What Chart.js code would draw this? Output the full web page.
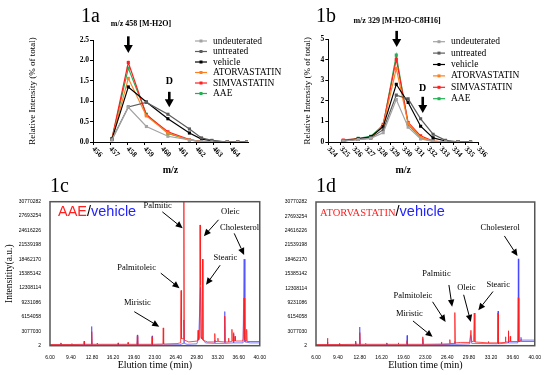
<!DOCTYPE html>
<html>
<head>
<meta charset="utf-8">
<script src="https://cdn.jsdelivr.net/npm/chart.js@4.4.1/dist/chart.umd.min.js"></script>
<style>
  body { margin: 0; background: #fff; }
  #fig { position: relative; width: 550px; height: 375px; overflow: hidden; font-family: "Liberation Serif", serif; }
  #fig canvas { position: absolute; }
  .lbl { position: absolute; white-space: nowrap; line-height: 1; color: #000; }
  .panel { font-size: 20px; }
  .head { font-size: 8px; font-weight: bold; transform: translate(-50%, -50%); }
  .pair { font-family: "Liberation Sans", sans-serif; font-size: 14.5px; }
</style>
</head>
<body>
<div id="fig">
  <canvas id="c1a" width="290" height="188" style="left:0;top:0"></canvas>
  <canvas id="c1b" width="275" height="188" style="left:275px;top:0"></canvas>
  <canvas id="c1c" width="275" height="187" style="left:0;top:188px"></canvas>
  <canvas id="c1d" width="275" height="187" style="left:275px;top:188px"></canvas>

  <div class="lbl panel" style="left:81px;top:5px">1a</div>
  <div class="lbl panel" style="left:316px;top:5px">1b</div>
  <div class="lbl panel" style="left:50px;top:175px">1c</div>
  <div class="lbl panel" style="left:316px;top:175px">1d</div>
  <div class="lbl head" style="left:141px;top:24px">m/z 458 [M-H2O]</div>
  <div class="lbl head" style="left:397px;top:21px">m/z 329 [M-H2O-C8H16]</div>
  <div class="lbl pair" style="left:58px;top:204px"><span style="color:#ff1f1f">AAE</span>/<span style="color:#2323ff">vehicle</span></div>
  <div class="lbl pair" style="left:320px;top:204px"><span style="color:#ff1f1f;font-family:'Liberation Serif',serif;font-size:10.5px">ATORVASTATIN</span>/<span style="color:#2323ff">vehicle</span></div>
</div>

<script>
// ---- 1a : m/z 458 [M-H2O] cluster ----
const mzA = [457.1, 458.05, 459.1, 460.35, 461.6, 462.3, 462.9, 463.8, 464.4, 464.95];
const undeutA = [0.05, 0.85, 0.38, 0.14, 0.05, 0.01, 0.0, 0, 0, 0];
const untreatA = [0.06, 0.86, 0.97, 0.68, 0.32, 0.10, 0.04, 0, 0, 0];
const vehicleA = [0.07, 1.35, 0.98, 0.57, 0.22, 0.07, 0.03, 0, 0, 0];
const atorA = [0.07, 1.56, 0.64, 0.22, 0.05, 0.01, 0, 0, 0, 0];
const simvaA = [0.08, 1.95, 0.66, 0.25, 0.06, 0.01, 0, 0, 0, 0];
const aaeA = [0.08, 1.81, 0.68, 0.21, 0.05, 0.01, 0, 0, 0, 0];
const mzTicksA = [456, 457, 458, 459, 460, 461, 462, 463, 464];

// ---- 1b : m/z 329 [M-H2O-C8H16] cluster ----
const mzB = [325.2, 326.4, 327.4, 328.4, 329.45, 330.4, 331.4, 332.4, 333.4, 334.4, 335.4];
const undeutB = [0.05, 0.12, 0.18, 0.45, 2.07, 0.72, 0.15, 0.03, 0.01, 0, 0];
const untreatB = [0.05, 0.13, 0.20, 0.60, 2.28, 2.10, 1.13, 0.38, 0.08, 0.01, 0];
const vehicleB = [0.05, 0.15, 0.25, 0.75, 2.81, 1.92, 0.77, 0.20, 0.05, 0, 0];
const atorB = [0.06, 0.15, 0.22, 0.80, 3.58, 0.90, 0.22, 0.04, 0, 0, 0];
const simvaB = [0.10, 0.15, 0.18, 0.86, 4.03, 0.95, 0.30, 0.05, 0, 0, 0];
const aaeB = [0.07, 0.18, 0.28, 0.80, 4.23, 0.85, 0.20, 0.03, 0, 0, 0];
const mzTicksB = [324, 325, 326, 327, 328, 329, 330, 331, 332, 333, 334, 335, 336];

const seriesNames = ['undeuterated', 'untreated', 'vehicle', 'ATORVASTATIN', 'SIMVASTATIN', 'AAE'];
const seriesColors = ['#a3a3a3', '#5c5c5c', '#000000', '#ff7f1f', '#ff1f1f', '#1fb153'];

// ---- 1c / 1d : GC chromatograms, [time (min), intensity] ----
const redC = [[6, 0.25e6], [7.7, 0.25e6], [7.77, 0.6e6], [7.84, 0.25e6], [9.5, 0.25e6], [9.56, 0.45e6], [9.62, 0.25e6],
  [11.5, 0.3e6], [11.55, 0.9e6], [11.6, 0.3e6], [12.7, 0.3e6], [12.76, 3.0e6], [12.82, 0.3e6], [13.6, 0.3e6], [13.65, 0.5e6], [13.7, 0.3e6],
  [17.0, 0.3e6], [17.05, 0.6e6], [17.1, 0.3e6], [18.6, 0.3e6], [18.65, 0.7e6], [18.7, 0.3e6], [20.1, 0.3e6], [20.16, 2.0e6], [20.22, 0.3e6],
  [22.5, 0.3e6], [22.56, 1.9e6], [22.62, 0.3e6], [24.3, 0.35e6], [24.36, 3.8e6], [24.42, 0.35e6],
  [26.6, 0.45e6], [27.1, 0.6e6], [27.18, 5.5e6], [27.25, 11.8e6], [27.32, 1.5e6], [27.62, 1.5e6], [27.7, 31e6], [27.78, 1.2e6],
  [28.5, 0.8e6], [29.9, 1.0e6], [30.0, 3.3e6], [30.08, 1.2e6], [30.25, 1.5e6], [30.32, 25.8e6], [30.4, 13e6], [30.48, 1.8e6],
  [30.62, 1.5e6], [30.72, 18.5e6], [30.8, 1.2e6], [31.5, 0.8e6], [32.65, 0.8e6], [32.71, 2.6e6], [32.77, 0.9e6], [33.16, 0.9e6], [33.22, 1.6e6], [33.28, 0.9e6],
  [34.25, 0.8e6], [34.33, 6.3e6], [34.4, 0.8e6], [34.88, 0.8e6], [34.94, 1.6e6], [35.0, 0.8e6], [35.43, 0.9e6], [35.49, 3.5e6], [35.55, 1.0e6],
  [35.7, 1.0e6], [35.75, 2.8e6], [35.8, 1.0e6], [35.95, 1.0e6], [36.0, 2.0e6], [36.05, 1.0e6], [37.25, 1.0e6], [37.32, 1.6e6], [37.47, 10.2e6], [37.56, 1.2e6],
  [37.82, 1.0e6], [37.88, 3.5e6], [37.95, 0.9e6], [40, 0.9e6]];
const blueC = [[6, 0.15e6], [7.7, 0.15e6], [7.77, 0.5e6], [7.84, 0.15e6], [9.5, 0.15e6], [9.56, 0.3e6], [9.62, 0.15e6],
  [11.5, 0.15e6], [11.55, 1.0e6], [11.6, 0.15e6], [12.7, 0.15e6], [12.76, 4.1e6], [12.82, 0.15e6], [17.0, 0.15e6], [17.05, 0.4e6], [17.1, 0.15e6],
  [20.1, 0.15e6], [20.16, 2.3e6], [20.22, 0.15e6], [22.5, 0.15e6], [22.56, 2.1e6], [22.62, 0.15e6],
  [27.0, 0.2e6], [27.62, 0.5e6], [27.7, 5.5e6], [27.78, 0.5e6], [28.2, 0.3e6], [29.8, 0.4e6], [30.1, 1.5e6], [30.4, 12.5e6], [30.52, 1.8e6],
  [30.8, 1.3e6], [31.2, 0.6e6], [32.65, 0.5e6], [32.71, 1.2e6], [32.77, 0.5e6], [34.27, 0.5e6], [34.33, 7.3e6], [34.39, 0.5e6],
  [35.7, 0.6e6], [35.75, 2.5e6], [35.8, 0.6e6], [37.3, 0.6e6], [37.47, 18.5e6], [37.6, 0.8e6], [38.5, 0.6e6], [40, 0.6e6]];
const redD = [[6, 0.25e6], [7.72, 0.25e6], [7.78, 1.6e6], [7.84, 0.25e6], [9.6, 0.25e6], [9.65, 0.5e6], [9.7, 0.25e6],
  [12.1, 0.3e6], [12.16, 0.9e6], [12.22, 0.3e6], [12.74, 0.3e6], [12.8, 2.8e6], [12.86, 0.3e6], [13.65, 0.3e6], [13.7, 0.5e6], [13.75, 0.3e6],
  [16.95, 0.3e6], [17.0, 0.6e6], [17.05, 0.3e6], [18.75, 0.3e6], [18.8, 0.6e6], [18.85, 0.3e6], [20.1, 0.3e6], [20.16, 1.1e6], [20.22, 0.3e6],
  [22.54, 0.3e6], [22.6, 1.9e6], [22.66, 0.3e6], [25.45, 0.35e6], [25.5, 0.8e6], [25.55, 0.35e6], [26.75, 0.4e6], [26.8, 1.3e6], [26.85, 0.45e6],
  [27.5, 0.5e6], [27.58, 7.1e6], [27.66, 0.6e6], [28.5, 0.7e6], [29.9, 0.7e6], [30.08, 3.3e6], [30.2, 0.9e6], [30.5, 0.9e6], [30.6, 7.0e6], [30.7, 0.8e6],
  [32.75, 0.6e6], [32.8, 0.9e6], [32.85, 0.6e6], [34.24, 0.6e6], [34.3, 7.0e6], [34.36, 0.6e6], [35.4, 0.7e6], [35.45, 1.9e6], [35.5, 0.8e6],
  [35.85, 0.8e6], [35.9, 3.2e6], [35.95, 0.9e6], [36.15, 0.9e6], [36.2, 2.0e6], [36.25, 0.9e6], [37.38, 0.9e6], [37.45, 10.3e6], [37.52, 0.9e6],
  [37.81, 0.9e6], [37.86, 1.3e6], [37.91, 0.9e6], [40, 0.9e6]];
const blueD = [[6, 0.15e6], [7.72, 0.15e6], [7.78, 0.8e6], [7.84, 0.15e6], [9.6, 0.15e6], [9.65, 0.4e6], [9.7, 0.15e6],
  [12.1, 0.15e6], [12.16, 1.0e6], [12.22, 0.15e6], [12.74, 0.15e6], [12.8, 4.0e6], [12.86, 0.15e6], [16.95, 0.15e6], [17.0, 0.5e6], [17.05, 0.15e6],
  [20.1, 0.15e6], [20.16, 2.2e6], [20.22, 0.15e6], [22.54, 0.15e6], [22.6, 1.5e6], [22.66, 0.15e6], [27.5, 0.3e6], [27.58, 0.9e6], [27.66, 0.3e6],
  [29.9, 0.4e6], [30.05, 2.2e6], [30.2, 0.5e6], [34.24, 0.4e6], [34.3, 7.4e6], [34.36, 0.4e6], [35.85, 0.6e6], [35.9, 3.0e6], [35.95, 0.6e6],
  [37.38, 0.6e6], [37.45, 18.6e6], [37.52, 0.8e6], [37.81, 1.2e6], [37.86, 1.8e6], [37.91, 1.2e6], [40, 1.2e6]];
const timeTicks = [6, 9.4, 12.8, 16.2, 19.6, 23, 26.4, 29.8, 33.2, 36.6, 40];
const intensityTicks = [2, 3077030, 6154058, 9231086, 12308114, 15385142, 18462170, 21539198, 24616226, 27693254, 30770282];

// peak names: label position, arrow start, arrow tip (time, intensity)
const calloutsC = [
  { text: 'Palmitic', t: [23.46, 29.9e6], a: [24.21, 28.6e6], b: [27.51, 25.1e6] },
  { text: 'Oleic', t: [35.22, 28.6e6], a: [33.32, 26.9e6], b: [30.94, 23.4e6] },
  { text: 'Cholesterol', t: [36.74, 25.3e6], a: [35.86, 24.0e6], b: [37.47, 19.4e6] },
  { text: 'Stearic', t: [34.43, 18.7e6], a: [33.58, 17.2e6], b: [31.3, 13.0e6] },
  { text: 'Palmitoleic', t: [20.04, 16.75e6], a: [23.96, 15.5e6], b: [26.99, 12.3e6] },
  { text: 'Miristic', t: [20.16, 9.19e6], a: [19.66, 7.27e6], b: [23.71, 4.06e6] }
];
const calloutsD = [
  { text: 'Cholesterol', t: [34.63, 25.3e6], a: [35.28, 23.5e6], b: [37.32, 19.2e6] },
  { text: 'Stearic', t: [34.32, 13.1e6], a: [33.51, 11.6e6], b: [31.23, 7.6e6] },
  { text: 'Oleic', t: [29.37, 12.4e6], a: [28.95, 10.9e6], b: [30.06, 5.1e6] },
  { text: 'Palmitic', t: [24.73, 15.3e6], a: [26.66, 13.0e6], b: [27.16, 8.35e6] },
  { text: 'Palmitoleic', t: [21.07, 10.7e6], a: [24.12, 9.4e6], b: [26.14, 5.1e6] },
  { text: 'Miristic', t: [20.51, 6.8e6], a: [21.07, 5.3e6], b: [24.12, 1.9e6] }
];

// big arrows on the isotope plots: x, top, tip (data units)
const arrowsA = [{ x: 458.05, top: 2.59, tip: 2.18 }, { x: 460.43, top: 1.23, tip: 0.85, label: 'D', ly: 1.48 }];
const arrowsB = [{ x: 329.48, top: 5.41, tip: 4.63 }, { x: 331.57, top: 2.2, tip: 1.41, label: 'D', ly: 2.6 }];

const serif = 'Liberation Serif';

// slanted x labels (reading down to the right, like Prism)
const slantLabels = {
  id: 'slantLabels',
  afterDraw(chart) {
    const c = chart.ctx, sx = chart.scales.x;
    c.save();
    c.font = 'bold 7.5px "' + serif + '"';
    c.fillStyle = '#000';
    c.textAlign = 'left';
    c.textBaseline = 'middle';
    sx.ticks.forEach(t => {
      c.save();
      c.translate(sx.getPixelForValue(t.value), chart.chartArea.bottom + 6);
      c.rotate(Math.PI / 4);
      c.fillText(String(t.value), 0, 0);
      c.restore();
    });
    c.restore();
  }
};

function keyPlugin(x, y0, dy) {
  return {
    id: 'key',
    afterDraw(chart) {
      const c = chart.ctx;
      c.save();
      c.font = '9.5px "' + serif + '"';
      c.textBaseline = 'middle';
      chart.data.datasets.forEach((d, i) => {
        const y = y0 + i * dy;
        c.strokeStyle = d.borderColor;
        c.lineWidth = 1.2;
        c.beginPath(); c.moveTo(x, y); c.lineTo(x + 12, y); c.stroke();
        c.fillStyle = d.borderColor;
        c.fillRect(x + 4.5, y - 1.5, 3, 3);
        c.fillStyle = '#000';
        c.fillText(d.label, x + 18, y);
      });
      c.restore();
    }
  };
}

function bigArrows(items) {
  return {
    id: 'bigArrows',
    afterDraw(chart) {
      const c = chart.ctx, sx = chart.scales.x, sy = chart.scales.y;
      c.save();
      c.fillStyle = '#000';
      items.forEach(a => {
        const px = sx.getPixelForValue(a.x);
        const top = sy.getPixelForValue(a.top), tip = sy.getPixelForValue(a.tip);
        c.fillRect(px - 1.3, top, 2.6, tip - top - 7);
        c.beginPath();
        c.moveTo(px - 4.5, tip - 8); c.lineTo(px + 4.5, tip - 8); c.lineTo(px, tip);
        c.closePath(); c.fill();
        if (a.label) {
          c.font = 'bold 10px "' + serif + '"';
          c.textAlign = 'center';
          c.textBaseline = 'middle';
          c.fillText(a.label, px, sy.getPixelForValue(a.ly));
        }
      });
      c.restore();
    }
  };
}

function callouts(items) {
  return {
    id: 'callouts',
    afterDraw(chart) {
      const c = chart.ctx, sx = chart.scales.x, sy = chart.scales.y;
      // frame round the plot
      const ca = chart.chartArea;
      c.save();
      c.strokeStyle = '#555';
      c.lineWidth = 1.5;
      c.strokeRect(ca.left, ca.top, ca.right - ca.left, ca.bottom - ca.top);
      c.font = '8.5px "' + serif + '"';
      c.textAlign = 'center';
      c.textBaseline = 'middle';
      c.fillStyle = '#000';
      c.strokeStyle = '#000';
      c.lineWidth = 1;
      items.forEach(it => {
        c.fillText(it.text, sx.getPixelForValue(it.t[0]), sy.getPixelForValue(it.t[1]));
        const x1 = sx.getPixelForValue(it.a[0]), y1 = sy.getPixelForValue(it.a[1]);
        const x2 = sx.getPixelForValue(it.b[0]), y2 = sy.getPixelForValue(it.b[1]);
        const ang = Math.atan2(y2 - y1, x2 - x1);
        const bx = x2 - 7 * Math.cos(ang), by = y2 - 7 * Math.sin(ang);
        c.beginPath(); c.moveTo(x1, y1); c.lineTo(bx, by); c.stroke();
        c.beginPath();
        c.moveTo(x2, y2);
        c.lineTo(bx - 3.2 * Math.sin(ang), by + 3.2 * Math.cos(ang));
        c.lineTo(bx + 3.2 * Math.sin(ang), by - 3.2 * Math.cos(ang));
        c.closePath(); c.fill();
      });
      c.restore();
    }
  };
}

function mzChart(id, xs, ys, opt) {
  const datasets = seriesNames.map((name, i) => ({
    label: name,
    data: xs.map((x, k) => ({ x: x, y: ys[i][k] })),
    borderColor: seriesColors[i],
    backgroundColor: seriesColors[i],
    borderWidth: 1.2,
    pointStyle: 'rect',
    pointRadius: 2.2,
    pointBorderWidth: 0,
    tension: 0
  }));
  return new Chart(document.getElementById(id), {
    type: 'line',
    data: { datasets: datasets },
    options: {
      responsive: false,
      animation: false,
      layout: { padding: opt.pad },
      plugins: { legend: { display: false }, tooltip: { enabled: false } },
      scales: {
        x: {
          type: 'linear', min: opt.xMin, max: opt.xMax,
          afterBuildTicks: s => { s.ticks = opt.xTicks.map(v => ({ value: v })); },
          afterFit: s => { s.height = 34; },
          ticks: { display: false },
          grid: { drawOnChartArea: false, tickLength: 3, color: '#000' },
          border: { color: '#000', width: 1 },
          title: { display: true, text: 'm/z', color: '#000', padding: 0, font: { family: serif, size: 10, weight: 'bold' } }
        },
        y: {
          min: 0, max: opt.yMax,
          afterFit: s => { s.width = opt.yW; },
          ticks: { stepSize: opt.yStep, padding: 1, color: '#000', font: { family: serif, size: 7.5, weight: 'bold' },
                   callback: v => opt.yStep < 1 ? v.toFixed(1) : v },
          grid: { drawOnChartArea: false, tickLength: 3, color: '#000' },
          border: { color: '#000', width: 1 },
          title: { display: true, text: 'Relative Intensity (% of total)', color: '#000', padding: 0, font: { family: serif, size: 9 } }
        }
      }
    },
    plugins: [slantLabels, keyPlugin(opt.key[0], opt.key[1], opt.key[2]), bigArrows(opt.arrows)]
  });
}

function gcChart(id, red, blue, notes, opt) {
  const pts = arr => arr.map(p => ({ x: p[0], y: p[1] }));
  return new Chart(document.getElementById(id), {
    type: 'line',
    data: {
      datasets: [
        { label: 'treated', data: pts(red), borderColor: 'rgba(255,30,30,0.8)', borderWidth: 1, pointRadius: 0, tension: 0 },
        { label: 'vehicle', data: pts(blue), borderColor: 'rgba(60,60,255,0.65)', borderWidth: 1, pointRadius: 0, tension: 0 }
      ]
    },
    options: {
      responsive: false,
      animation: false,
      layout: { padding: opt.pad },
      plugins: { legend: { display: false }, tooltip: { enabled: false } },
      scales: {
        x: {
          type: 'linear', min: 6, max: 40,
          afterBuildTicks: s => { s.ticks = timeTicks.map(v => ({ value: v })); },
          afterFit: s => { s.height = 25.3; },
          ticks: { padding: 9, color: '#000', font: { family: 'Liberation Sans', size: 5 }, callback: v => v.toFixed(2) },
          grid: { display: false, drawTicks: false },
          border: { display: false },
          title: { display: true, text: 'Elution time (min)', color: '#000', padding: 0, font: { family: serif, size: 10 } }
        },
        y: {
          min: 2, max: 30770282,
          afterBuildTicks: s => { s.ticks = intensityTicks.map(v => ({ value: v })); },
          afterFit: s => { s.width = opt.yW; },
          ticks: { padding: 9, color: '#000', font: { family: 'Liberation Sans', size: 5 }, callback: v => String(v) },
          grid: { display: false, drawTicks: false },
          border: { display: false },
          title: { display: opt.yTitle, text: 'Intensitity(a.u.)', color: '#000', padding: 0, font: { family: serif, size: 9.5 } }
        }
      }
    },
    plugins: [callouts(notes)]
  });
}

mzChart('c1a', mzA, [undeutA, untreatA, vehicleA, atorA, simvaA, aaeA], {
  pad: { left: 27, right: 42, top: 40, bottom: 12 }, yW: 66,
  xMin: 456, xMax: 465, xTicks: mzTicksA, yMax: 2.5, yStep: 0.5,
  key: [195, 41, 10.5], arrows: arrowsA
});
mzChart('c1b', mzB, [undeutB, untreatB, vehicleB, atorB, simvaB, aaeB], {
  pad: { left: 27, right: 72, top: 39.3, bottom: 12 }, yW: 26.3,
  xMin: 324, xMax: 336, xTicks: mzTicksB, yMax: 5, yStep: 1,
  key: [158, 41.7, 11.4], arrows: arrowsB
});
gcChart('c1c', redC, blueC, calloutsC, { pad: { left: 4, right: 1, top: 13.7, bottom: 4 }, yW: 46, yTitle: true });
gcChart('c1d', redD, blueD, calloutsD, { pad: { left: 0, right: 10.7, top: 14, bottom: 4 }, yW: 41, yTitle: false });
</script>
</body>
</html>
